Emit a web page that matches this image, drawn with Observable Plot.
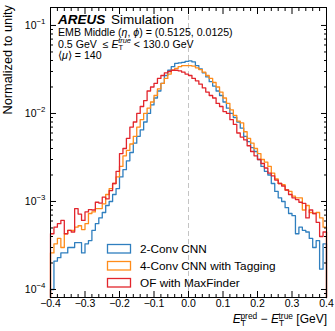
<!DOCTYPE html>
<html><head><meta charset="utf-8">
<script src="https://cdn.jsdelivr.net/npm/d3@7"></script>
<script src="https://cdn.jsdelivr.net/npm/@observablehq/plot@0.6"></script>
<style>
body{margin:0;background:#fff;}
#chart{width:335px;height:331px;}
</style></head><body><div id="chart"></div>
<script>
// ---- data ----
const seriesNames = ["2-Conv CNN", "4-Conv CNN with Tagging", "OF with MaxFinder"];
const seriesColors = ["#2f7fbf", "#ff8c1a", "#e2252c"];
const binEdges = d3.range(81).map(i => Math.round((-0.4 + 0.01 * i) * 100) / 100);
const cnn2 = [1.0e-4,2.1e-4,2.3e-4,2.6e-4,2.6e-4,3.0e-4,3.0e-4,3.4e-4,3.4e-4,2.6e-4,
  3.3e-4,3.6e-4,4.7e-4,5.6e-4,6.5e-4,7.5e-4,9.0e-4,1.0e-3,1.2e-3,1.4e-3,
  1.9e-3,2.3e-3,2.9e-3,3.6e-3,4.6e-3,5.5e-3,6.5e-3,8.0e-3,1.0e-2,1.25e-2,
  1.5e-2,1.8e-2,2.2e-2,2.7e-2,3.1e-2,3.4e-2,3.7e-2,3.75e-2,3.8e-2,3.9e-2,
  3.95e-2,3.85e-2,3.5e-2,3.2e-2,2.9e-2,2.6e-2,2.3e-2,2.05e-2,1.8e-2,1.6e-2,
  1.35e-2,1.15e-2,1.0e-2,9.0e-3,8.0e-3,6.8e-3,5.5e-3,4.8e-3,4.1e-3,3.7e-3,
  3.0e-3,2.5e-3,2.2e-3,2.0e-3,1.6e-3,1.3e-3,1.1e-3,1.0e-3,8.5e-4,7.3e-4,
  6.9e-4,4.3e-4,5.1e-4,4.7e-4,4.5e-4,3.8e-4,3.0e-4,3.6e-4,1.7e-4,3.3e-4];
const cnn4 = [2.6e-4,3.3e-4,3.8e-4,3.0e-4,4.3e-4,4.7e-4,4.7e-4,5.1e-4,5.3e-4,4.8e-4,
  5.6e-4,7.3e-4,7.6e-4,8.3e-4,8.3e-4,9.4e-4,1.2e-3,1.4e-3,1.6e-3,1.9e-3,
  2.5e-3,3.3e-3,3.8e-3,4.5e-3,5.5e-3,7.0e-3,8.5e-3,1.0e-2,1.15e-2,1.35e-2,
  1.6e-2,1.9e-2,2.2e-2,2.5e-2,2.8e-2,3.1e-2,3.25e-2,3.4e-2,3.5e-2,3.5e-2,
  3.5e-2,3.45e-2,3.3e-2,3.15e-2,2.95e-2,2.7e-2,2.5e-2,2.25e-2,2.0e-2,1.75e-2,
  1.5e-2,1.3e-2,1.1e-2,9.5e-3,8.2e-3,7.8e-3,6.2e-3,5.2e-3,4.6e-3,4.0e-3,
  3.5e-3,3.0e-3,2.8e-3,2.5e-3,2.1e-3,1.8e-3,1.6e-3,1.55e-3,1.35e-3,1.3e-3,
  1.15e-3,1.1e-3,1.1e-3,8.0e-4,9.0e-4,7.5e-4,7.3e-4,7.5e-4,6.5e-4,5.1e-4];
const ofmf = [4.3e-4,5.1e-4,5.6e-4,6.1e-4,4.3e-4,4.7e-4,4.5e-4,8.3e-4,7.2e-4,6.1e-4,
  7.6e-4,8.1e-4,8.0e-4,9.8e-4,9.6e-4,1.12e-3,1.07e-3,1.33e-3,1.6e-3,2.2e-3,
  3.5e-3,4.0e-3,5.2e-3,7.0e-3,8.0e-3,1.0e-2,1.2e-2,1.4e-2,1.8e-2,2.0e-2,
  2.2e-2,2.5e-2,2.7e-2,2.9e-2,3.0e-2,3.1e-2,3.1e-2,3.05e-2,2.95e-2,2.8e-2,
  2.7e-2,2.5e-2,2.35e-2,2.15e-2,1.95e-2,1.75e-2,1.6e-2,1.5e-2,1.3e-2,1.2e-2,
  1.05e-2,1.0e-2,8.5e-3,7.5e-3,6.0e-3,5.4e-3,5.0e-3,4.3e-3,3.7e-3,3.3e-3,
  3.0e-3,2.7e-3,2.4e-3,2.1e-3,1.95e-3,1.75e-3,1.6e-3,1.5e-3,1.35e-3,1.2e-3,
  1.1e-3,1.05e-3,9.8e-4,9.5e-4,6.5e-4,8.0e-4,7.3e-4,5.8e-4,4.0e-4,4.5e-4];
const xMajorTicks = [-0.4,-0.3,-0.2,-0.1,0,0.1,0.2,0.3,0.4];
const xMinorTicks = [-0.38,-0.36,-0.34,-0.32,-0.28,-0.26,-0.24,-0.22,-0.18,-0.16,-0.14,-0.12,-0.08,-0.06,-0.04,-0.02,
  0.02,0.04,0.06,0.08,0.12,0.14,0.16,0.18,0.22,0.24,0.26,0.28,0.32,0.34,0.36,0.38];
const yMajorTicks = [1e-4,1e-3,1e-2,1e-1];
const yMinorTicks = [9e-5,2e-4,3e-4,4e-4,5e-4,6e-4,7e-4,8e-4,9e-4,2e-3,3e-3,4e-3,5e-3,6e-3,7e-3,8e-3,9e-3,
  2e-2,3e-2,4e-2,5e-2,6e-2,7e-2,8e-2,9e-2];
const yDomain = [8.11e-5, 0.16];
const allSeries = [cnn2, cnn4, ofmf];

function stepPoints(vals) {
  const pts = [{x: binEdges[0], y: yDomain[0]}];
  vals.forEach((v, i) => pts.push({x: binEdges[i], y: v}));
  pts.push({x: binEdges[binEdges.length - 1], y: vals[vals.length - 1]});
  pts.push({x: binEdges[binEdges.length - 1], y: yDomain[0]});
  return pts;
}
const blank = () => "";
const font = "'Liberation Sans', Arial, Helvetica, sans-serif";

const svg = Plot.plot({
  width: 335, height: 331,
  marginTop: 7, marginBottom: 34, marginLeft: 50, marginRight: 9,
  style: {fontFamily: font, fontSize: "10.5px", color: "#000", background: "#fff"},
  x: {domain: [-0.4, 0.4]},
  y: {type: "log", domain: yDomain},
  marks: [
    Plot.ruleX([0], {stroke: "#c4c4c4", strokeDasharray: "5,3", strokeWidth: 1}),
    ...allSeries.map((s, k) => Plot.line(stepPoints(s), {x: "x", y: "y", curve: "step-after", stroke: seriesColors[k], strokeWidth: 1.3})),
    Plot.axisX(xMajorTicks, {anchor: "bottom", tickSize: -6, tickPadding: 8.5, tickFormat: d3.format(".1f"), label: null}),
    Plot.axisX(xMinorTicks, {anchor: "bottom", tickSize: -3, tickFormat: blank, label: null}),
    Plot.axisX(xMajorTicks, {anchor: "top", tickSize: -6, tickFormat: blank, label: null}),
    Plot.axisX(xMinorTicks, {anchor: "top", tickSize: -3, tickFormat: blank, label: null}),
    Plot.axisY(yMajorTicks, {anchor: "left", tickSize: -6, tickPadding: 11, tickFormat: d => String(Math.round(Math.log10(d))), label: null}),
    Plot.axisY(yMinorTicks, {anchor: "left", tickSize: -3, tickFormat: blank, label: null}),
    Plot.axisY(yMajorTicks, {anchor: "right", tickSize: -6, tickFormat: blank, label: null}),
    Plot.axisY(yMinorTicks, {anchor: "right", tickSize: -3, tickFormat: blank, label: null}),
    Plot.frame({stroke: "#000", strokeWidth: 1})
  ]
});
document.getElementById("chart").appendChild(svg);

const S = d3.select(svg);
// y tick labels as 10^n
S.selectAll('g[aria-label="y-axis tick label"] text').each(function() {
  const t = d3.select(this);
  const e = t.text();
  if (!e) return;
  t.text("");
  t.append("tspan").text("10");
  t.append("tspan").attr("dy", -5).attr("font-size", "0.75em").text(e.replace("-", "\u2212"));
});

function addText(x, y, parts, opts = {}) {
  const t = S.append("text").attr("x", x).attr("y", y)
    .attr("font-family", font).attr("font-size", opts.size || 10).attr("fill", "#000")
    .attr("text-anchor", opts.anchor || "start");
  if (opts.rotate) t.attr("transform", `rotate(-90,${x},${y})`);
  parts.forEach(p => {
    const s = t.append("tspan").text(p.t);
    if (p.dy) s.attr("dy", p.dy);
    if (p.dx) s.attr("dx", p.dx);
    if (p.fs) s.attr("font-size", p.fs);
    if (p.fw) s.attr("font-weight", p.fw);
    if (p.st) s.attr("font-style", p.st);
  });
  return t;
}
// y label
addText(12, 5, [{t: "Normalized to unity"}], {size: 12.8, anchor: "end", rotate: true});
// x label
addText(327, 323, [
  {t: "E", st: "italic"}, {t: "T", fs: "0.7em", dy: 3}, {t: "pred", fs: "0.7em", dy: -7.5, dx: -5.5},
  {t: " \u2212 ", dy: 4.5}, {t: "E", st: "italic"}, {t: "T", fs: "0.7em", dy: 3},
  {t: "true", fs: "0.7em", dy: -7.5, dx: -5.5}, {t: " [GeV]", dy: 4.5}
], {size: 12, anchor: "end"});
// annotation
addText(58, 24, [{t: "AREUS", fw: "bold", st: "italic"}], {size: 13.5});
addText(111, 24, [{t: "Simulation"}], {size: 13.5});
addText(58, 36, [{t: "EMB Middle ("}, {t: "\u03B7", st: "italic"}, {t: ", "}, {t: "\u03D5", st: "italic"}, {t: ") = (0.5125, 0.0125)"}], {size: 10.6});
addText(58, 47.5, [{t: "0.5 GeV  \u2264 "}, {t: "E", st: "italic"}, {t: "T", fs: "0.7em", dy: 2.5},
  {t: "true", fs: "0.7em", dy: -7, dx: -5, st: "italic"}, {t: " < 130.0 GeV", dy: 4.5}], {size: 10.6});
addText(58, 59, [{t: "\u27E8"}, {t: "\u03BC", st: "italic"}, {t: "\u27E9 = 140"}], {size: 10.6});

// legend
const legY = [244.5, 261.5, 278.5];
seriesNames.forEach((n, k) => {
  S.append("rect").attr("x", 107.5).attr("y", legY[k]).attr("width", 23).attr("height", 8.5)
    .attr("fill", "none").attr("stroke", seriesColors[k]).attr("stroke-width", 1.3);
  addText(140, legY[k] + 8.5, [{t: n}], {size: 11.8});
});
</script></body></html>
